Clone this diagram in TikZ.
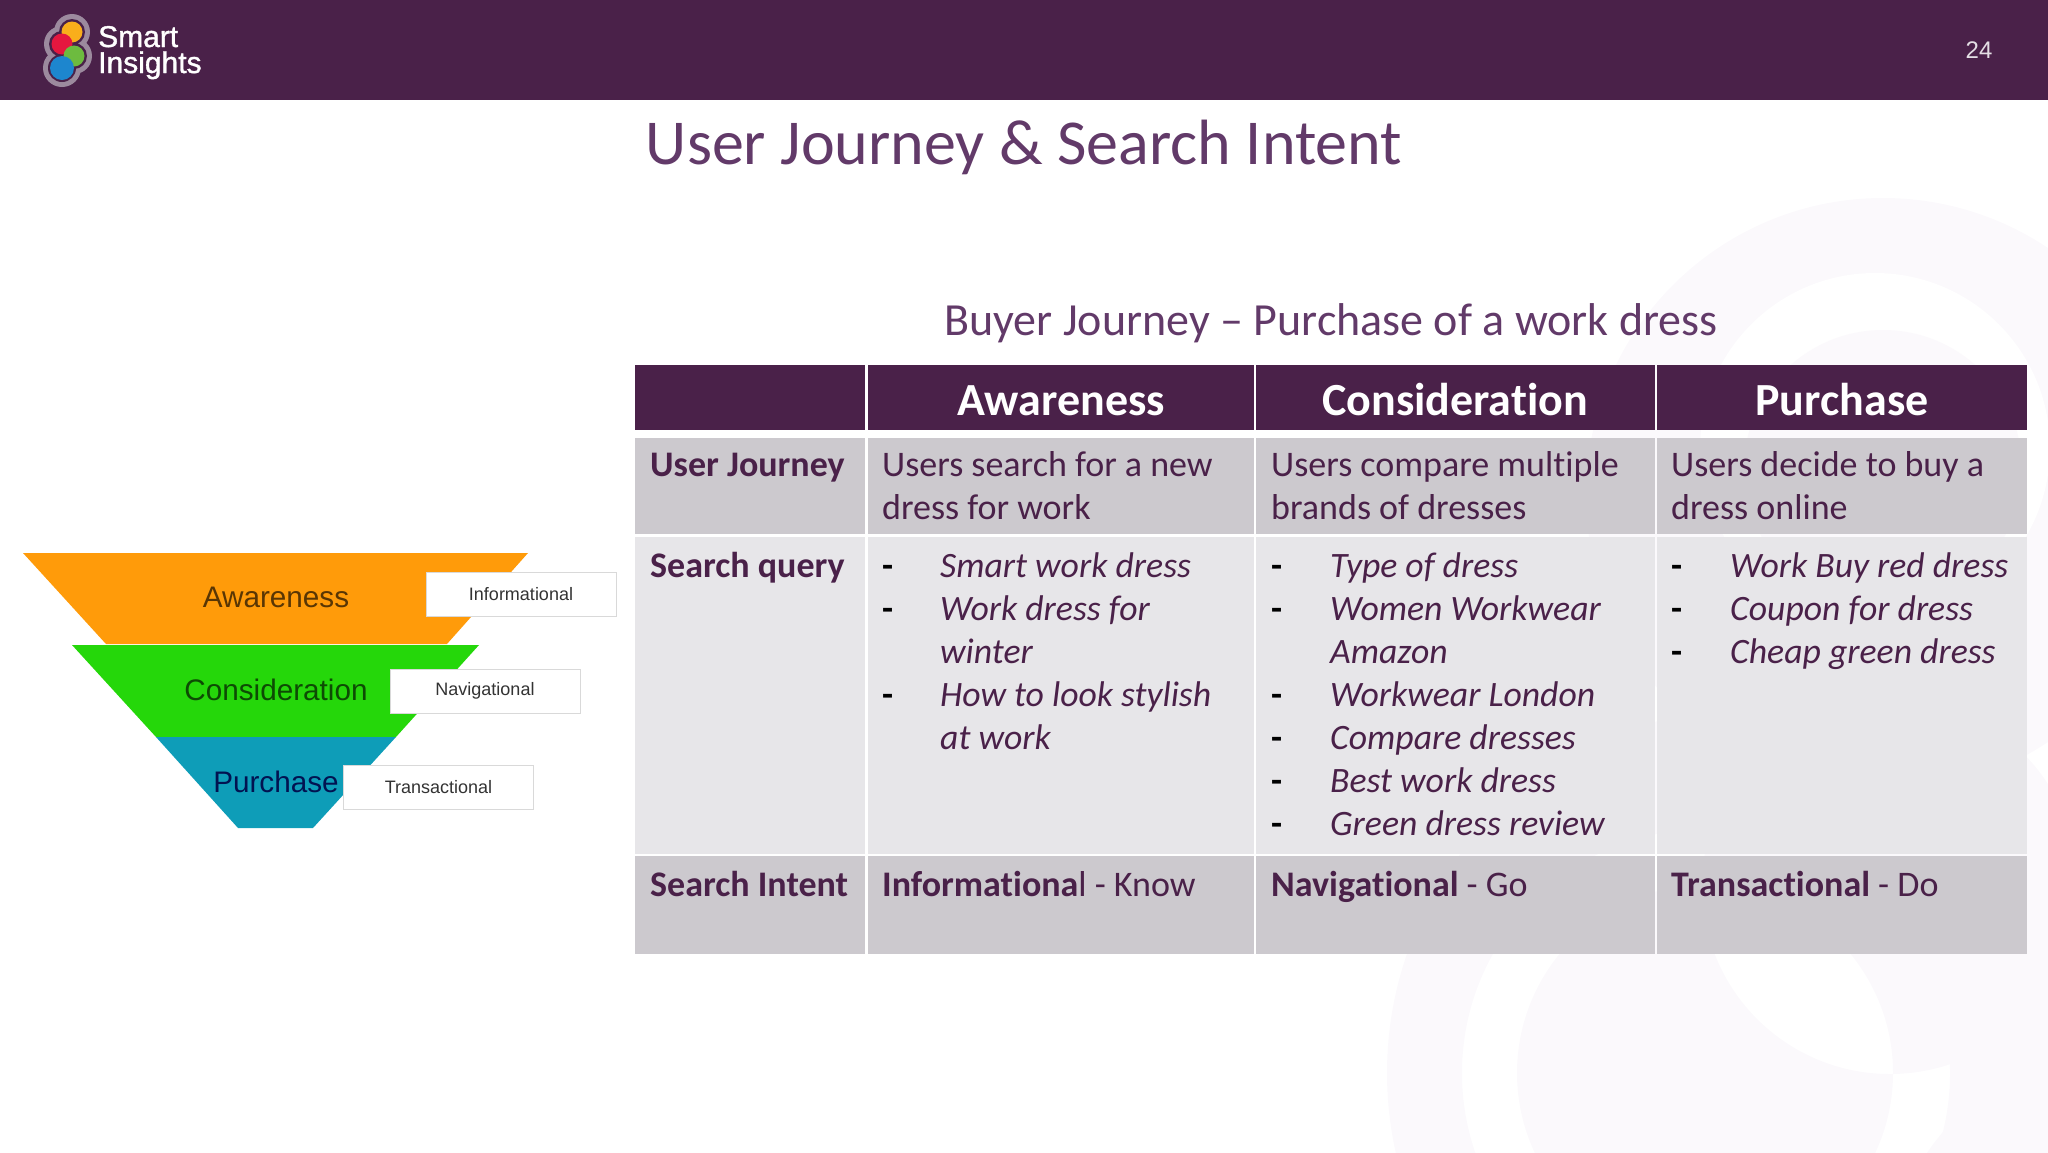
\documentclass[tikz,border=0pt]{standalone}
\usepackage{fontspec}
\setmainfont[Ligatures=NoCommon]{Carlito}
\newfontfamily\arialfont{Liberation Sans}
\newfontfamily\logofont[FakeBold=1.2]{Liberation Sans}
\definecolor{plum}{HTML}{4A2149}
\definecolor{titleplum}{HTML}{623A69}
\definecolor{rowdark}{HTML}{CCC9CE}
\definecolor{rowlight}{HTML}{E7E6E9}
\definecolor{wmark}{HTML}{FBF9FC}
\definecolor{logoring}{HTML}{9C8A9E}
\definecolor{logoorange}{HTML}{F9AE1B}
\definecolor{logored}{HTML}{E5173F}
\definecolor{logogreen}{HTML}{6DBB3F}
\definecolor{logoblue}{HTML}{1D86CE}
\definecolor{orangefun}{HTML}{FF9B0A}
\definecolor{greenfun}{HTML}{25D70A}
\definecolor{bluefun}{HTML}{0E9DB8}
\newcommand{\px}[1]{\fontsize{#1}{#1}\selectfont}
\tikzset{
  txt/.style={anchor=base west,inner sep=0pt,text=plum,font=\px{36}},
  head/.style={anchor=base,inner sep=0pt,text=white,font=\px{46}\bfseries},
  side/.style={txt,font=\px{36}\bfseries},
  query/.style={txt,font=\px{35.7}\itshape},
  dashmark/.style={txt,text=black,font=\px{36}\bfseries},
  funlabel/.style={anchor=center,inner sep=0pt,font=\arialfont\px{29.7}},
  tagbox/.style={draw=black!15,fill=white,line width=1pt,minimum width=190pt,minimum height=44pt,inner sep=0pt,text=black!80,font=\arialfont\px{18}},
}
\begin{document}
\begin{tikzpicture}[x=1pt,y=-1pt]
\useasboundingbox (0,0) rectangle (2048,1152);
% watermark
\fill[wmark] (1883,495) circle (297);
\fill[white] (1875,448) circle (175);
\fill[wmark] (1883,469) circle (139);
\fill[wmark,even odd rule] (1751,1073) circle (364) (1706,1073) circle (244);
\fill[wmark,even odd rule] (1705,1073) circle (188) (1890,886) circle (188);
\fill[wmark] (2090,1260) circle (195);
% top bar
\fill[plum] (0,0) rectangle (2048,100);
\fill[logoring] (72,32) circle (18) (62,44) circle (18) (74,56) circle (18) (62,68) circle (19);
\fill[plum] (72,32) circle (13) (62,44) circle (13) (74,56) circle (13) (62,68) circle (14);
\fill[logoorange] (72,32) circle (10.5);
\fill[logored] (62,44) circle (10.5);
\fill[logogreen] (74,56) circle (10.5);
\fill[logoblue] (62,68) circle (12);
\node[anchor=base west,inner sep=0pt,text=white,font=\logofont\px{30}] (logoA) at (98,47) {Smart};
\node[anchor=base west,inner sep=0pt,text=white,font=\logofont\px{30}] (logoB) at (98,73) {Insights};
\node[text=white!85!plum,font=\arialfont\px{24}] (pagenum) at (1979,50) {24};
% titles
\node[anchor=base,inner sep=0pt,text=titleplum,font=\px{64}] (title) at (1024,164) {User Journey \& Search Intent};
\node[anchor=base,inner sep=0pt,text=titleplum,font=\px{46}] (subtitle) at (1331,335) {Buyer Journey – Purchase of a work dress};
% table cells
\foreach \xa/\xb in {635/865,868/1254,1256/1654.5,1657/2027}{
  \fill[plum] (\xa,365) rectangle (\xb,430);
  \fill[rowdark] (\xa,438) rectangle (\xb,534);
  \fill[rowlight] (\xa,537) rectangle (\xb,854);
  \fill[rowdark] (\xa,856) rectangle (\xb,954);
}
\node[head] (hdrA) at (1061,415) {Awareness};
\node[head] (hdrB) at (1455,415) {Consideration};
\node[head] (hdrC) at (1842,415) {Purchase};
\node[side] (rowA) at (650,476) {User Journey};
\node[side] (rowB) at (650,577) {Search query};
\node[side] (rowC) at (650,896) {Search Intent};
\node[txt] (ujA1) at (882,476) {Users search for a new};
\node[txt] (ujA2) at (882,519) {dress for work};
\node[txt] (ujB1) at (1271,476) {Users compare multiple};
\node[txt] (ujB2) at (1271,519) {brands of dresses};
\node[txt] (ujC1) at (1671,476) {Users decide to buy a};
\node[txt] (ujC2) at (1671,519) {dress online};
% search queries, line by line
\foreach \n in {0,1,3}
  \node[dashmark] (dA\n) at (882,577+43*\n) {-};
\foreach \n/\t in {0/Smart work dress,1/Work dress for,2/winter,3/How to look stylish,4/at work}
  \node[query] (qA\n) at (940,577+43*\n) {\t};
\foreach \n in {0,1,3,4,5,6}
  \node[dashmark] (dB\n) at (1271,577+43*\n) {-};
\foreach \n/\t in {0/Type of dress,1/Women Workwear,2/Amazon,3/Workwear London,4/Compare dresses,5/Best work dress,6/Green dress review}
  \node[query] (qB\n) at (1330,577+43*\n) {\t};
\foreach \n/\t in {0/Work Buy red dress,1/Coupon for dress,2/Cheap green dress}{
  \node[dashmark] (dC\n) at (1671,577+43*\n) {-};
  \node[query] (qC\n) at (1730,577+43*\n) {\t};
}
\node[txt] (siA) at (882,896) {\textbf{Informationa}l - Know};
\node[txt] (siB) at (1271,896) {\textbf{Navigational} - Go};
\node[txt] (siC) at (1671,896) {\textbf{Transactional} - Do};
% funnel
\fill[orangefun] (23,553) -- (528,553) -- (447,644) -- (106,644) -- cycle;
\fill[greenfun] (72,645) -- (479,645) -- (396,737) -- (156,737) -- cycle;
\fill[bluefun] (156,737) -- (396,737) -- (313,828) -- (238,828) -- cycle;
\node[funlabel,text=orangefun!35!black] (funA) at (276,597) {Awareness};
\node[funlabel,text=greenfun!35!black] (funB) at (276,690) {Consideration};
\node[funlabel,text=bluefun!35!blue!35!black] (funC) at (276,782) {Purchase};
\node[tagbox] (tagA) at (521,594.5) {Informational};
\node[tagbox] (tagB) at (485,691) {Navigational};
\node[tagbox] (tagC) at (438.5,787) {Transactional};
\end{tikzpicture}
\end{document}
